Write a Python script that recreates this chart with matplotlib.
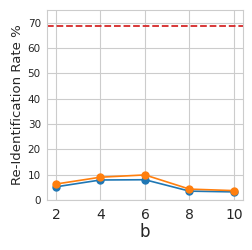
import numpy as np
import matplotlib
matplotlib.use('Agg')
import matplotlib.pyplot as plt
import seaborn as sns

b_values = [2, 4, 6, 8, 10]
rate_blue = [5.2, 7.9, 8.0, 3.5, 3.2]
rate_orange = [6.3, 9.0, 9.9, 4.3, 3.7]
baseline = 68.5

sns.set_style('whitegrid')
fig, ax = plt.subplots(figsize=(2.53, 2.5), dpi=100)
ax.plot(b_values, rate_blue, marker='o', markersize=5, linewidth=1.2, color='#1f77b4')
ax.plot(b_values, rate_orange, marker='o', markersize=5, linewidth=1.2, color='#ff7f0e')
ax.axhline(baseline, color='#d62728', linestyle='--', linewidth=1.3)
ax.set_ylim(0, 75)
ax.set_xticks(b_values)
ax.set_yticks([0, 10, 20, 30, 40, 50, 60, 70])
ax.tick_params(axis='x', labelsize=10, pad=2)
ax.tick_params(axis='y', labelsize=7.5, pad=1)
ax.set_xlabel('b', fontsize=12, labelpad=1)
ax.set_ylabel('Re-Identification Rate %', fontsize=9.5, labelpad=3)
fig.subplots_adjust(left=0.186, right=0.96, top=0.96, bottom=0.2)
fig.savefig('out.png', dpi=100)
